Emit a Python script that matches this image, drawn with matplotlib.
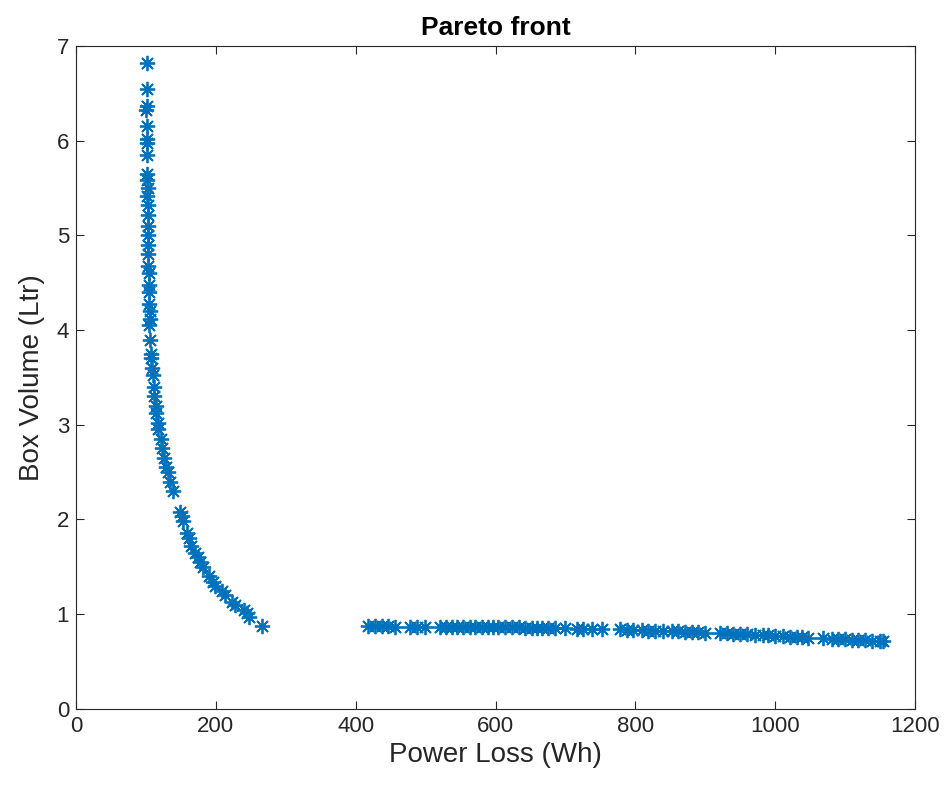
import matplotlib
matplotlib.use("Agg")
import matplotlib.pyplot as plt

plt.rcParams['font.family'] = ['Liberation Sans', 'DejaVu Sans']

# Steep branch of the Pareto front
loss_a = [101, 101, 101, 100, 101, 101, 102, 101, 101, 102, 103, 102, 103, 103, 103, 103,
          103, 103, 103, 104, 104, 104, 104, 106, 106, 105, 106, 107, 108, 109, 110, 111,
          112, 114, 115, 117, 118, 121, 123, 126, 129, 132, 135, 139, 149, 151, 153, 159,
          162, 165, 170, 174, 178, 182, 190, 196, 199, 209, 213, 223, 228, 240, 244, 248, 266]
vol_a = [6.82, 6.55, 6.37, 6.32, 6.15, 6.02, 5.97, 5.85, 5.65, 5.58, 5.50, 5.42, 5.32, 5.22,
         5.10, 5.00, 4.90, 4.80, 4.68, 4.60, 4.48, 4.40, 4.28, 4.20, 4.12, 4.05, 3.90, 3.75,
         3.70, 3.60, 3.52, 3.40, 3.30, 3.20, 3.12, 3.02, 2.95, 2.85, 2.75, 2.65, 2.55, 2.50,
         2.40, 2.30, 2.08, 2.04, 1.98, 1.86, 1.80, 1.72, 1.65, 1.60, 1.55, 1.50, 1.40, 1.34,
         1.30, 1.24, 1.20, 1.13, 1.10, 1.04, 1.01, 0.97, 0.87]

# Flat branch of the Pareto front
loss_b = [418, 428, 438, 446, 456, 478, 488, 499, 521, 529, 538, 545, 553, 563, 571, 581,
          589, 596, 604, 613, 624, 633, 642, 652, 659, 666, 675, 685, 699, 716, 725, 738,
          752, 778, 788, 797, 810, 818, 828, 840, 852, 861, 871, 881, 890, 900, 921, 931,
          940, 950, 960, 971, 983, 990, 1000, 1011, 1021, 1031, 1038, 1047, 1068, 1081,
          1090, 1100, 1110, 1118, 1128, 1138, 1150, 1154]
vol_b = [0.87, 0.87, 0.87, 0.87, 0.86, 0.86, 0.86, 0.86, 0.86, 0.86, 0.86, 0.86, 0.86, 0.86,
         0.86, 0.86, 0.86, 0.86, 0.86, 0.86, 0.86, 0.86, 0.85, 0.85, 0.85, 0.85, 0.85, 0.85,
         0.85, 0.84, 0.84, 0.84, 0.84, 0.84, 0.83, 0.83, 0.83, 0.82, 0.82, 0.82, 0.82, 0.82,
         0.81, 0.81, 0.81, 0.80, 0.80, 0.80, 0.79, 0.79, 0.79, 0.78, 0.78, 0.78, 0.77, 0.77,
         0.76, 0.76, 0.76, 0.75, 0.75, 0.74, 0.74, 0.74, 0.73, 0.73, 0.73, 0.72, 0.72, 0.72]

x_ticks = [0, 200, 400, 600, 800, 1000, 1200]
y_ticks = [0, 1, 2, 3, 4, 5, 6, 7]

fig = plt.figure(figsize=(9.46, 7.92), dpi=100)
ax = fig.add_axes([0.0803, 0.105, 0.887, 0.837])

color = '#0072BD'
marker = (8, 2, 0)
ax.plot(loss_a + loss_b, vol_a + vol_b, linestyle='none', marker=marker,
        markersize=11, markeredgewidth=1.3, color=color)

ax.set_xlim(0, 1200)
ax.set_ylim(0, 7)
ax.set_xticks(x_ticks)
ax.set_yticks(y_ticks)
ax.tick_params(direction='in', top=True, right=True, labelsize=16, length=6,
               width=0.8, colors='#262626', pad=5)
for s in ax.spines.values():
    s.set_color('#262626')
    s.set_linewidth(0.8)

ax.set_xlabel('Power Loss (Wh)', fontsize=20, color='#262626', labelpad=4)
ax.set_ylabel('Box Volume (Ltr)', fontsize=20, color='#262626', labelpad=8)
ax.set_title('Pareto front', fontsize=19, fontweight='bold', color='black', pad=8)

fig.savefig('out.png', dpi=100)
